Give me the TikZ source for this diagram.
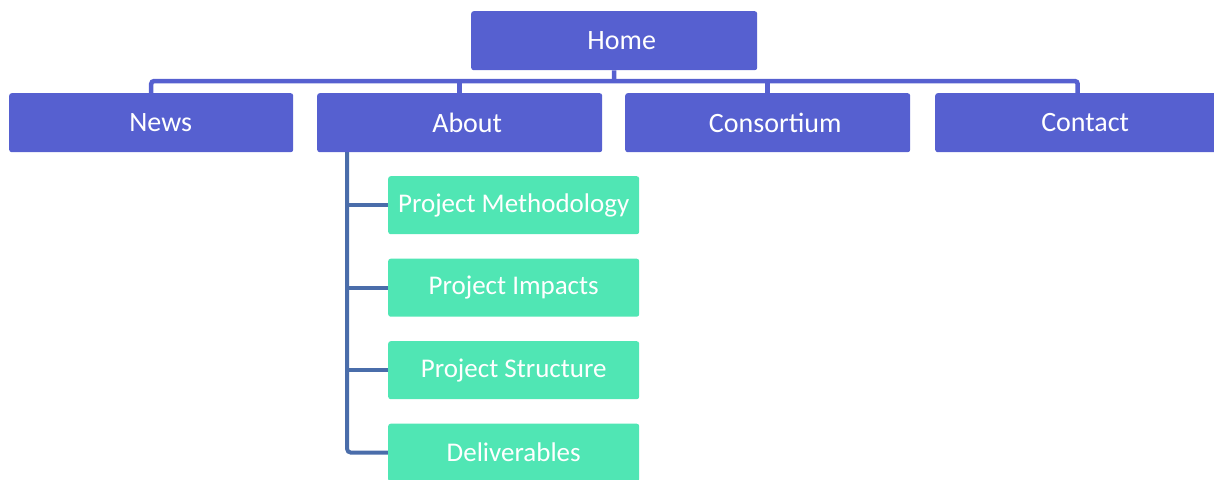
\documentclass[tikz,border=0pt]{standalone}
\usepackage{fontspec}
\setmainfont{Carlito}
\usetikzlibrary{backgrounds}
\definecolor{navblue}{HTML}{5660D0}
\definecolor{subgreen}{HTML}{50E6B4}
\definecolor{subline}{HTML}{4A6DAA}
\begin{document}
\begin{tikzpicture}[x=1pt,y=-1pt,
  mainbox/.style={fill=navblue, text=white, rounded corners=2.5pt, minimum width=285pt, minimum height=59pt, inner sep=0pt, anchor=north west, font=\fontsize{28}{32}\selectfont, execute at begin node={\hspace*{15pt}}},
  subbox/.style={fill=subgreen, text=white, rounded corners=2.5pt, minimum width=251pt, minimum height=58pt, inner sep=0pt, anchor=north west, font=\fontsize{27}{31}\selectfont},
  topline/.style={draw=navblue, line width=4.5pt, rounded corners=3pt},
  sline/.style={draw=subline, line width=4pt, rounded corners=4pt}]
\useasboundingbox (0,0) rectangle (1214,479);
\clip (0,0) rectangle (1214,479);
\coordinate (bus) at (614,81);
\coordinate (subtop) at (347,150);
\node[mainbox, minimum width=286pt] (home) at (471,11) {Home};
\node[mainbox, minimum width=284pt] (news) at (9,93) {\hspace*{4pt}News};
\node[mainbox] (about) at (317,93) {About};
\node[mainbox] (cons) at (625,93) {Consortium};
\node[mainbox] (contact) at (935,93) {Contact};
\node[subbox] (meth) at (388,176) {Project Methodology};
\node[subbox] (imp) at (388,258.5) {Project Impacts};
\node[subbox] (struct) at (388,341) {Project Structure};
\node[subbox] (deliv) at (388,423.5) {Deliverables};
\begin{scope}[on background layer]
\draw[topline] (home.south) -- (bus);
\draw[topline] (news.north) |- (contact.north |- bus) -- (contact.north);
\draw[topline] (about.north |- bus) -- (about.north);
\draw[topline] (cons.north |- bus) -- (cons.north);
\draw[sline] (subtop) |- (deliv.west);
\draw[sline, rounded corners=0pt] (subtop |- meth.west) -- (meth.west);
\draw[sline, rounded corners=0pt] (subtop |- imp.west) -- (imp.west);
\draw[sline, rounded corners=0pt] (subtop |- struct.west) -- (struct.west);
\end{scope}
\end{tikzpicture}
\end{document}
